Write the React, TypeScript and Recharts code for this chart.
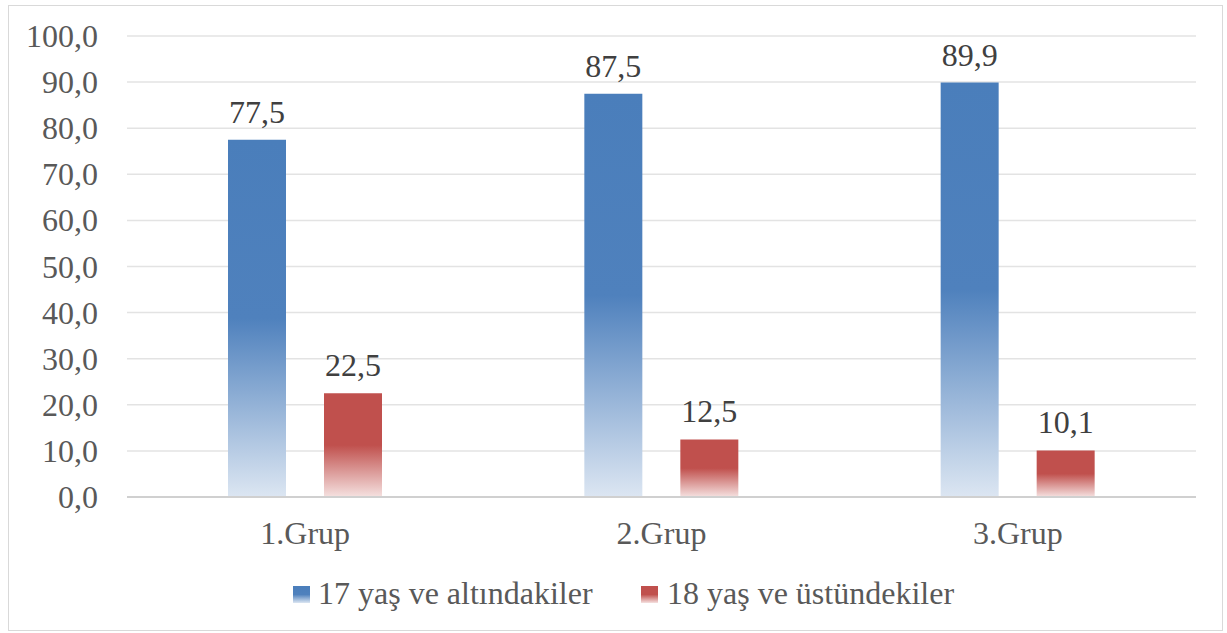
import React from 'react';
import { BarChart, Bar, XAxis, YAxis, CartesianGrid, Legend, LabelList } from 'recharts';

const categories = ['1.Grup', '2.Grup', '3.Grup'];
const under17 = [77.5, 87.5, 89.9];
const over18 = [22.5, 12.5, 10.1];
const yTicks = [0, 10, 20, 30, 40, 50, 60, 70, 80, 90, 100];
const seriesNames = ['17 yaş ve altındakiler', '18 yaş ve üstündekiler'];

const data = categories.map((c, i) => ({ name: c, a: under17[i], b: over18[i] }));

const FONT = 'Liberation Serif';
const FS = 32;
const txtStyle = { fontFamily: FONT, fontSize: FS };
const fmt = (v: number) => Number(v).toFixed(1).replace('.', ',');

const YTick = (props: any) => {
  const { x, y, payload } = props;
  return (
    <text x={x} y={y} dy={11} textAnchor="end" fontFamily={FONT} fontSize={FS} style={txtStyle} fill="#595959">
      {fmt(payload.value)}
    </text>
  );
};

const XTick = (props: any) => {
  const { x, y, payload } = props;
  return (
    <text x={x} y={y} dy={37} textAnchor="middle" fontFamily={FONT} fontSize={FS} style={txtStyle} fill="#595959">
      {payload.value}
    </text>
  );
};

const BarLabel = (props: any) => {
  const { x, y, width, value } = props;
  return (
    <text x={x + width / 2} y={y - 17} textAnchor="middle" fontFamily={FONT} fontSize={FS} style={txtStyle} fill="#404040">
      {fmt(value)}
    </text>
  );
};

const LegendContent = () => (
  <svg width={1219} height={76} style={{ display: 'block' }}>
    <rect x={285} y={29} width={17} height={17} fill="url(#gBlue2)" />
    <text x={310} y={47} fontFamily={FONT} fontSize={FS} style={txtStyle} fill="#595959">{seriesNames[0]}</text>
    <rect x={633} y={29} width={17} height={17} fill="url(#gRed2)" />
    <text x={659} y={47} fontFamily={FONT} fontSize={FS} style={txtStyle} fill="#595959">{seriesNames[1]}</text>
  </svg>
);

export default function App() {
  return (
    <div style={{ position: 'absolute', left: 0, top: 0, width: 1227, height: 633, background: '#fff', fontFamily: FONT }}>
      <div style={{ position: 'absolute', left: 8, top: 5, width: 1215, height: 626, border: '1px solid #d9d9d9', boxSizing: 'border-box' }} />
      <div style={{ position: 'absolute', left: 0, top: 0 }}>
        <BarChart
          width={1227}
          height={633}
          data={data}
          margin={{ top: 36, right: 31, left: 8, bottom: 0 }}
          barSize={58}
          barGap={38}
          style={{ fontFamily: FONT }}
        >
          <defs>
            <linearGradient id="gBlue2" x1="0" y1="0" x2="0" y2="1">
              <stop offset="0" stopColor="#4a7ebb" />
              <stop offset="0.5" stopColor="#4f81bd" />
              <stop offset="1" stopColor="#dce6f2" />
            </linearGradient>
            <linearGradient id="gRed2" x1="0" y1="0" x2="0" y2="1">
              <stop offset="0" stopColor="#c0504d" />
              <stop offset="0.5" stopColor="#c0504d" />
              <stop offset="1" stopColor="#f5e1e0" />
            </linearGradient>
          </defs>
          <CartesianGrid vertical={false} stroke="#e3e3e3" strokeWidth={1.5} />
          <XAxis
            dataKey="name"
            axisLine={{ stroke: '#d0d0d0', strokeWidth: 2 }}
            tickLine={false}
            tickSize={0}
            tickMargin={10}
            height={60}
            tick={<XTick />}
          />
          <YAxis
            domain={[0, 100]}
            ticks={yTicks}
            axisLine={false}
            tickLine={false}
            tickSize={0}
            tickMargin={29}
            width={119}
            interval={0}
            tick={<YTick />}
          />
          <Legend verticalAlign="bottom" height={76} content={<LegendContent />} />
          <Bar dataKey="a" name={seriesNames[0]} fill="url(#gBlue2)" isAnimationActive={false}>
            <LabelList dataKey="a" content={<BarLabel />} />
          </Bar>
          <Bar dataKey="b" name={seriesNames[1]} fill="url(#gRed2)" isAnimationActive={false}>
            <LabelList dataKey="b" content={<BarLabel />} />
          </Bar>
        </BarChart>
      </div>
    </div>
  );
}
